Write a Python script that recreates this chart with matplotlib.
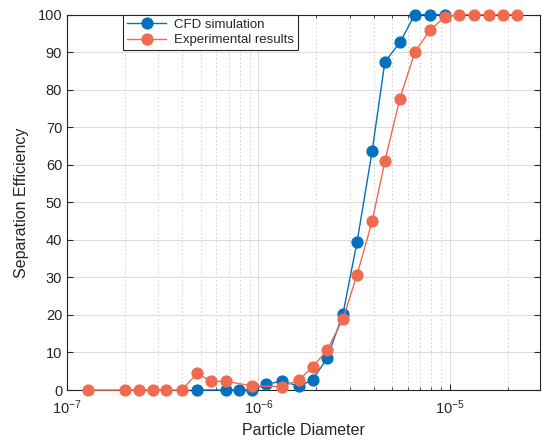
import matplotlib
matplotlib.use("Agg")
import matplotlib.pyplot as plt
from matplotlib.ticker import LogLocator, LogFormatterMathtext, NullFormatter, MultipleLocator

plt.rcParams['font.family'] = ['Liberation Sans', 'DejaVu Sans']
plt.rcParams['mathtext.fontset'] = 'custom'
plt.rcParams['mathtext.rm'] = 'Liberation Sans'
plt.rcParams['mathtext.it'] = 'Liberation Sans:italic'
plt.rcParams['mathtext.bf'] = 'Liberation Sans:bold'

# CFD simulation
cfd_d = [4.8e-7, 6.79e-7, 7.9e-7, 9.27e-7, 1.09e-6, 1.33e-6, 1.63e-6, 1.92e-6,
         2.28e-6, 2.76e-6, 3.27e-6, 3.92e-6, 4.57e-6, 5.47e-6, 6.55e-6, 7.84e-6, 9.38e-6]
cfd_eff = [0, 0, 0, 0, 1.5, 2.4, 1.0, 2.8,
           8.4, 20.3, 39.4, 63.6, 87.4, 92.6, 100, 100, 100]

# Experimental results
exp_d = [1.29e-7, 2.0e-7, 2.39e-7, 2.8e-7, 3.28e-7, 3.98e-7, 4.8e-7, 5.65e-7, 6.79e-7,
         9.27e-7, 1.33e-6, 1.63e-6, 1.92e-6, 2.28e-6, 2.76e-6, 3.27e-6, 3.92e-6,
         4.57e-6, 5.47e-6, 6.55e-6, 7.84e-6, 9.38e-6, 1.11e-5, 1.33e-5, 1.59e-5, 1.89e-5, 2.25e-5]
exp_eff = [0, 0, 0, 0, 0, 0, 4.5, 2.3, 2.3,
           1.1, 0.9, 2.7, 6.2, 10.6, 18.9, 30.7, 44.9,
           61.0, 77.6, 90.0, 95.8, 99.4, 100, 100, 100, 100, 100]

blue = '#0072BD'
orange = '#F06A50'
txt = '#262626'

fig = plt.figure(figsize=(5.43, 4.41), dpi=100)
ax = fig.add_axes([0.1234, 0.1156, 0.8710, 0.8511])

ax.plot(cfd_d, cfd_eff, '-o', color=blue, lw=1.0, ms=7.8, mec=blue, mfc=blue,
        label='CFD simulation', zorder=3, clip_on=False)
ax.plot(exp_d, exp_eff, '-o', color=orange, lw=1.0, ms=7.8, mec=orange, mfc=orange,
        label='Experimental results', zorder=4, clip_on=False)

ax.set_xscale('log')
ax.set_xlim(1e-7, 2.95e-5)
ax.set_ylim(0, 100)
ax.yaxis.set_major_locator(MultipleLocator(10))
ax.xaxis.set_major_locator(LogLocator(base=10, numticks=10))
ax.xaxis.set_major_formatter(LogFormatterMathtext())
ax.xaxis.set_minor_locator(LogLocator(base=10, subs=range(2, 10), numticks=20))
ax.xaxis.set_minor_formatter(NullFormatter())

ax.grid(True, which='major', color='#dcdcdc', lw=0.8, ls='-', zorder=0)
ax.grid(True, which='minor', axis='x', color='#d0d0d0', lw=0.7, ls=(0, (1.5, 2.5)), zorder=0)
ax.set_axisbelow(True)

ax.tick_params(which='both', direction='in', top=True, right=True, colors=txt,
               labelsize=10.5, length=4)
ax.tick_params(which='minor', length=2)
ax.tick_params(axis='x', pad=6)
for s in ax.spines.values():
    s.set_color(txt)
    s.set_linewidth(0.8)
    s.set_zorder(2)

ax.set_xlabel('Particle Diameter', fontsize=11.5, color=txt, labelpad=4)
ax.set_ylabel('Separation Efficiency', fontsize=11.5, color=txt, labelpad=6)

leg = ax.legend(loc='upper left', bbox_to_anchor=(0.118, 1.0), borderaxespad=0,
                fontsize=9.5, frameon=True, fancybox=False, framealpha=1,
                edgecolor=txt, handlelength=3.0, borderpad=0.3, labelspacing=0.25,
                handletextpad=0.6)
leg.get_frame().set_linewidth(0.8)
leg.set_zorder(5)
for t in leg.get_texts():
    t.set_color(txt)

fig.savefig('out.png', dpi=100)
